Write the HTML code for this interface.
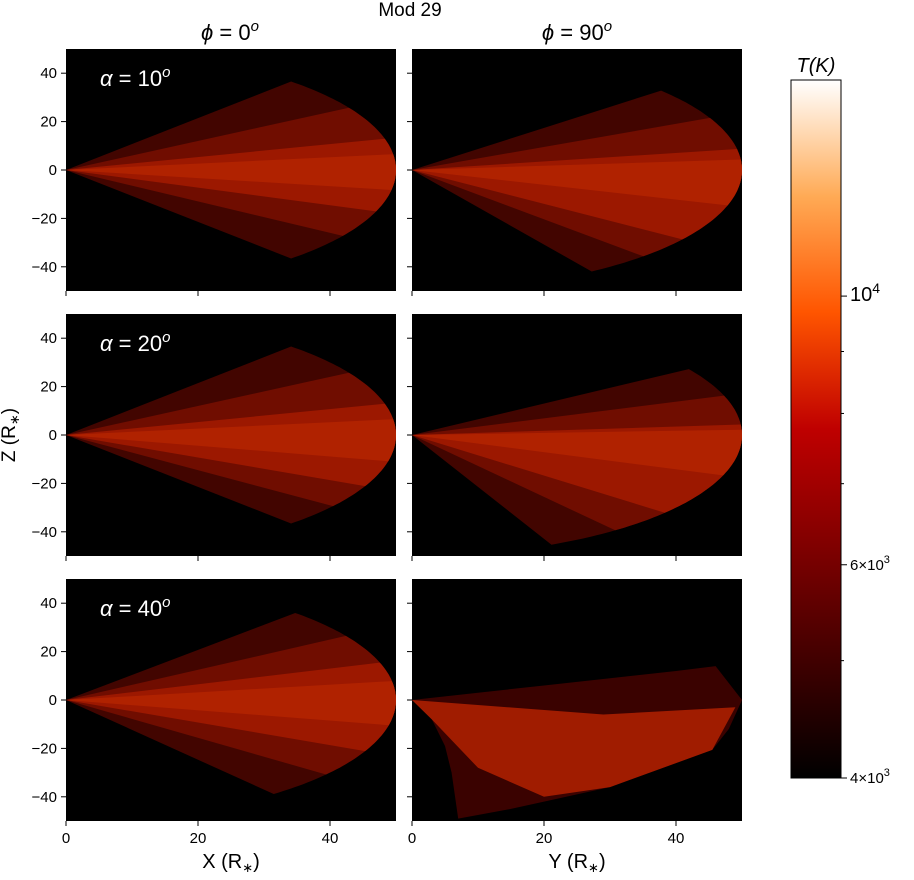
<!DOCTYPE html>
<html><head><meta charset="utf-8"><style>
body{margin:0;background:#fff;}
svg text{font-family:"Liberation Sans","DejaVu Sans",sans-serif;}
</style></head><body>
<svg id="fig" width="914" height="875" viewBox="0 0 914 875" xmlns="http://www.w3.org/2000/svg">
<defs>
<linearGradient id="cb" x1="0" y1="1" x2="0" y2="0">
<stop offset="0" stop-color="#000"/>
<stop offset="0.33" stop-color="#7f0000"/>
<stop offset="0.5" stop-color="#bf0000"/>
<stop offset="0.667" stop-color="#ff5500"/>
<stop offset="0.833" stop-color="#ffaa55"/>
<stop offset="1" stop-color="#fff"/>
</linearGradient>
</defs>
<text x="410" y="16" font-size="19" text-anchor="middle">Mod 29</text>
<text x="230" y="40" font-size="22" text-anchor="middle"><tspan font-style="italic">ϕ</tspan> = 0<tspan font-style="italic" font-size="15" dy="-9">o</tspan></text>
<text x="577" y="40" font-size="22" text-anchor="middle"><tspan font-style="italic">ϕ</tspan> = 90<tspan font-style="italic" font-size="15" dy="-9">o</tspan></text>
<text x="15" y="435" font-size="19" text-anchor="middle" transform="rotate(-90 15 435)">Z (R<tspan font-size="13" dy="4">∗</tspan><tspan dy="-4">)</tspan></text>
<text x="231" y="868" font-size="20" text-anchor="middle">X (R<tspan font-size="13" dy="4">∗</tspan><tspan dy="-4">)</tspan></text>
<text x="577" y="868" font-size="20" text-anchor="middle">Y (R<tspan font-size="13" dy="4">∗</tspan><tspan dy="-4">)</tspan></text>
<g id="panels"></g>
<g id="colorbar">
<rect x="791" y="80" width="50" height="698" fill="url(#cb)" stroke="#000" stroke-width="1"/>
<text x="816" y="72" font-size="20" text-anchor="middle" font-style="italic">T(K)</text>
</g>
</svg>
<script>
const NS="http://www.w3.org/2000/svg";
const rowTops=[49,314,579];
const colLefts=[66,412];
const alphaLabels=["10","20","40"];
const xTicks=[0,20,40];
const yTicks=[40,20,0,-20,-40];
const outerTop=[47,41,47,33,46,null];
const outerBot=[-47,-57,-47,-65,-51,null];
const coreTop=[15,10,15,5,18,null];
const coreBot=[-20,-35,-25,-40,-25,null];
const p6Outer=[[0,0],[10,3],[20,6],[30,9],[40,12],[46,14],[50,0],[48,-12],[45.5,-20.6],[30,-36],[15,-45],[7,-49],[6,-30],[5,-19],[3,-8]];
const p6Core=[[0,0],[29,-6],[49,-3],[45.5,-20.6],[30,-36],[20,-40],[10,-28],[3,-8]];
const cbTicks=[4000,6000,10000];
const cbMinor=[5000,7000,8000,9000];
const W=330,H=242;
const svg=document.getElementById('fig');
const g=document.getElementById('panels');
function mk(t,a,p){const e=document.createElementNS(NS,t);for(const k in a)e.setAttribute(k,a[k]);(p||g).appendChild(e);return e;}
function sx(c,v){return colLefts[c]+v*W/50;}
function sy(r,v){return rowTops[r]+H/2-v*H/100;}
function sector(r,c,a1,a2){let pts=[[0,0]];for(let a=a1;a>=a2;a-=1){const t=a*Math.PI/180;pts.push([50*Math.cos(t),50*Math.sin(t)]);}return pts;}
function poly(r,c,pts,fill,name){const d=pts.map(p=>sx(c,p[0]).toFixed(1)+','+sy(r,p[1]).toFixed(1)).join(' ');const e=mk('polygon',{points:d,fill:fill});return e;}
for(let r=0;r<3;r++)for(let c=0;c<2;c++){
 const i=r*2+c;
 const bg=mk('rect',{x:colLefts[c],y:rowTops[r],width:W,height:H,fill:'#000'});
 
 
 if(i<5){
  poly(r,c,sector(r,c,outerTop[i],outerBot[i]),'#420500','wedge-outer');
  poly(r,c,sector(r,c,(outerTop[i]+coreTop[i])/2,(outerBot[i]+coreBot[i])/2),'#700d00','wedge-middle');
  poly(r,c,sector(r,c,coreTop[i],coreBot[i]),'#9c1800','wedge-core');
  poly(r,c,sector(r,c,coreTop[i]/2,coreBot[i]/2),'#b02200','wedge-inner');
 } else {
  poly(r,c,p6Outer,'#3a0200','wedge-outer');
  poly(r,c,p6Core,'#a01c00','wedge-core');
 }
 for(const v of yTicks){const y=sy(r,v);
  const tk=mk('line',{x1:colLefts[c]-5,x2:colLefts[c],y1:y,y2:y,stroke:'#000'});
  
  if(c===0){const t=mk('text',{x:colLefts[c]-9,y:y+5,'font-size':15,'text-anchor':'end'});t.textContent=v===0?'0':(v<0?'−'+(-v):v);
   }
 }
 for(const v of xTicks){const x=sx(c,v);const y=rowTops[r]+H;
  const tk=mk('line',{x1:x,x2:x,y1:y,y2:y+5,stroke:'#000'});
  
  if(r===2){const t=mk('text',{x:x,y:y+22,'font-size':15,'text-anchor':'middle'});t.textContent=v;
   }
 }
 if(c===0){const t=mk('text',{x:100,y:rowTops[r]+37,'font-size':22,fill:'#fff'});
  t.innerHTML='<tspan font-style="italic">α</tspan> = '+alphaLabels[r]+'<tspan font-style="italic" font-size="15" dy="-9">o</tspan>';
  }
}
const cb=document.getElementById('colorbar');
function cy(v){return 778-(Math.log10(v)-Math.log10(4000))*1211;}
for(const v of cbTicks){const y=cy(v);
 const tk=mk('line',{x1:841,x2:847,y1:y,y2:y,stroke:'#000'},cb);
 
 const t=mk('text',{x:850,y:y+5,'font-size':v===10000?20:15},cb);
 if(v===10000)t.innerHTML='10<tspan font-size="14" dy="-8">4</tspan>';
 else t.innerHTML=(v/1000)+'×10<tspan font-size="11" dy="-7">3</tspan>';
 
}
for(const v of cbMinor){const y=cy(v);
 const tk=mk('line',{x1:841,x2:844,y1:y,y2:y,stroke:'#000'},cb);
 }
</script>
</body></html>
